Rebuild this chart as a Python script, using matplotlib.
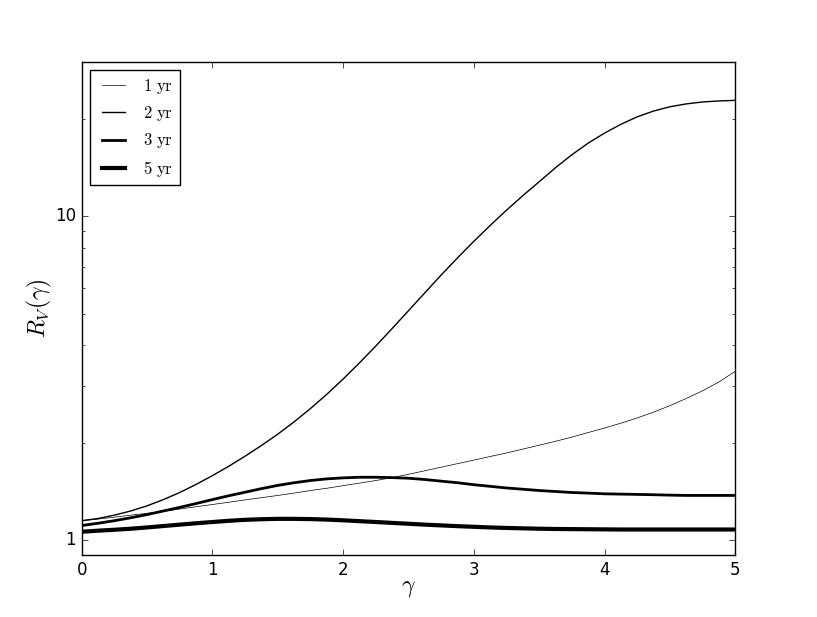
import matplotlib
matplotlib.use('Agg')
import matplotlib.pyplot as plt
from matplotlib import ticker

plt.style.use('classic')
plt.rcParams['mathtext.fontset'] = 'cm'

gamma = [0.0, 0.125, 0.25, 0.375, 0.5, 0.625, 0.75, 0.875, 1.0, 1.125,
         1.25, 1.375, 1.5, 1.625, 1.75, 1.875, 2.0, 2.125, 2.25, 2.375,
         2.5, 2.625, 2.75, 2.875, 3.0, 3.125, 3.25, 3.375, 3.5, 3.625,
         3.75, 3.875, 4.0, 4.125, 4.25, 4.375, 4.5, 4.625, 4.75, 4.875, 5.0]

rv_1yr = [1.151, 1.164, 1.180, 1.197, 1.213, 1.230, 1.250, 1.271, 1.291,
          1.312, 1.334, 1.355, 1.377, 1.400, 1.426, 1.449, 1.476, 1.503,
          1.531, 1.563, 1.600, 1.641, 1.683, 1.726, 1.770, 1.816, 1.862,
          1.914, 1.968, 2.023, 2.084, 2.153, 2.223, 2.301, 2.388, 2.489,
          2.606, 2.742, 2.897, 3.083, 3.327]
rv_2yr = [1.151, 1.169, 1.197, 1.233, 1.279, 1.337, 1.406, 1.489, 1.585,
          1.694, 1.820, 1.963, 2.128, 2.323, 2.553, 2.825, 3.148, 3.532,
          3.981, 4.508, 5.117, 5.808, 6.592, 7.447, 8.375, 9.376, 10.45,
          11.59, 12.79, 14.13, 15.49, 16.83, 18.07, 19.23, 20.28, 21.13,
          21.78, 22.23, 22.54, 22.70, 22.80]
rv_3yr = [1.112, 1.130, 1.151, 1.175, 1.202, 1.233, 1.265, 1.300, 1.337,
          1.374, 1.409, 1.445, 1.479, 1.507, 1.531, 1.549, 1.560, 1.567,
          1.567, 1.563, 1.556, 1.542, 1.524, 1.507, 1.486, 1.469, 1.452,
          1.439, 1.426, 1.416, 1.406, 1.400, 1.393, 1.390, 1.387, 1.384,
          1.380, 1.377, 1.377, 1.377, 1.377]
rv_5yr = [1.064, 1.072, 1.079, 1.087, 1.097, 1.108, 1.119, 1.130, 1.140,
          1.150, 1.158, 1.163, 1.166, 1.166, 1.164, 1.160, 1.154, 1.147,
          1.140, 1.133, 1.126, 1.119, 1.113, 1.107, 1.102, 1.097, 1.093,
          1.090, 1.087, 1.085, 1.084, 1.083, 1.082, 1.081, 1.081, 1.081,
          1.081, 1.081, 1.081, 1.081, 1.081]

labels = ['1 yr', '2 yr', '3 yr', '5 yr']
series = [rv_1yr, rv_2yr, rv_3yr, rv_5yr]
widths = [0.5, 1.0, 2.0, 3.0]

fig = plt.figure(figsize=(8.17, 6.17), dpi=100)
ax = fig.add_axes([0.1, 0.1, 0.8, 0.8])

for lab, ys, lw in zip(labels, series, widths):
    ax.plot(gamma, ys, color='k', lw=lw,
            label=r'$\rm %s$' % lab.replace(' ', r'\ '))

ax.set_yscale('log')
ax.set_xlim(0, 5)
ax.set_ylim(0.9, 30)
ax.yaxis.set_major_formatter(ticker.FuncFormatter(lambda v, p: '%g' % v))
ax.yaxis.set_minor_formatter(ticker.NullFormatter())

ax.set_xlabel(r'$\gamma$', fontsize=17, labelpad=-3)
ax.set_ylabel(r'$R_V(\gamma)$', fontsize=17, labelpad=1)

ax.legend(loc='upper left', fontsize=12)

fig.savefig('out.png', dpi=100)
